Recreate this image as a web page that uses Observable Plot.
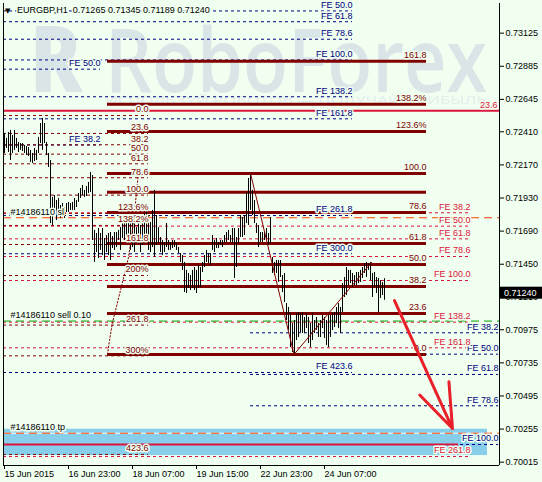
<!DOCTYPE html>
<html><head><meta charset="utf-8">
<script src="https://cdn.jsdelivr.net/npm/d3@7"></script>
<script src="https://cdn.jsdelivr.net/npm/@observablehq/plot@0.6"></script>
<style>
html,body{margin:0;padding:0;background:#f0fff0;}
#chart{width:542px;height:482px;}
</style></head><body><div id="chart"></div>
<script>
// ---------- data ----------
const title = "EURGBP,H1  0.71265 0.71345 0.71189 0.71240";
const lastPrice = 0.71240;
const barHigh = [
0.72398,0.72362,0.72405,0.72420,0.72383,0.72420,0.72362,0.72333,0.72325,0.72325,
0.72311,0.72303,0.72296,0.72275,0.72253,0.72289,0.72275,0.72369,0.72470,0.72507,
0.72470,0.72333,0.72253,0.72202,0.71934,0.71948,0.71912,0.71927,0.71876,0.71890,
0.71861,0.71890,0.71898,0.71890,0.71898,0.71927,0.71912,0.71963,0.71999,0.72021,
0.71985,0.72014,0.72043,0.72115,0.72093,0.71695,0.71673,0.71709,0.71673,0.71709,
0.71637,0.71658,0.71673,0.71680,0.71651,0.71680,0.71680,0.71695,0.71716,0.71745,
0.71782,0.71803,0.71767,0.71753,0.71782,0.71745,0.71716,0.71803,0.71731,0.71782,
0.71818,0.71840,0.71803,0.71753,0.71840,0.71985,0.71803,0.71716,0.71644,0.71622,
0.71608,0.71745,0.71622,0.71608,0.71622,0.71622,0.71600,0.71571,0.71528,0.71513,
0.71463,0.71405,0.71383,0.71368,0.71405,0.71426,0.71405,0.71441,0.71426,0.71463,
0.71513,0.71550,0.71528,0.71528,0.71658,0.71622,0.71637,0.71608,0.71622,0.71622,
0.71658,0.71680,0.71695,0.71658,0.71709,0.71709,0.71644,0.71709,0.71803,0.71789,
0.71803,0.71970,0.72072,0.72108,0.71985,0.71912,0.71745,0.71731,0.71680,0.71680,
0.71680,0.71709,0.71673,0.71789,0.71499,0.71463,0.71477,0.71477,0.71477,0.71368,
0.71383,0.71165,0.71136,0.71093,0.71020,0.71042,0.71093,0.71100,0.71093,0.71100,
0.71064,0.71093,0.71064,0.71020,0.71093,0.71042,0.71064,0.71020,0.71042,0.71078,
0.71064,0.71042,0.71078,0.71078,0.71093,0.71100,0.71136,0.71165,0.71136,0.71310,
0.71354,0.71426,0.71405,0.71405,0.71383,0.71368,0.71390,0.71390,0.71405,0.71426,
0.71455,0.71463,0.71455,0.71463,0.71383,0.71390,0.71354,0.71347,0.71332,0.71318,0.71345];
const barLow = [
0.72253,0.72289,0.72260,0.72202,0.72253,0.72275,0.72289,0.72260,0.72275,0.72267,
0.72253,0.72238,0.72231,0.72188,0.72180,0.72195,0.72202,0.72253,0.72325,0.72275,
0.72325,0.72238,0.72151,0.71745,0.71731,0.71818,0.71767,0.71825,0.71782,0.71818,
0.71782,0.71825,0.71825,0.71840,0.71840,0.71840,0.71861,0.71898,0.71927,0.71948,
0.71934,0.71941,0.71963,0.71970,0.71622,0.71463,0.71535,0.71492,0.71550,0.71513,
0.71477,0.71535,0.71513,0.71477,0.71564,0.71550,0.71571,0.71622,0.71550,0.71637,
0.71622,0.71658,0.71600,0.71550,0.71571,0.71535,0.71600,0.71600,0.71535,0.71586,
0.71600,0.71622,0.71550,0.71535,0.71571,0.71499,0.71586,0.71600,0.71535,0.71513,
0.71535,0.71571,0.71550,0.71550,0.71564,0.71571,0.71550,0.71528,0.71463,0.71405,
0.71245,0.71238,0.71274,0.71260,0.71274,0.71260,0.71238,0.71274,0.71281,0.71390,
0.71426,0.71463,0.71455,0.71441,0.71550,0.71535,0.71564,0.71564,0.71586,0.71571,
0.71600,0.71608,0.71622,0.71608,0.71600,0.71347,0.71426,0.71600,0.71644,0.71644,
0.71658,0.71745,0.71731,0.71840,0.71803,0.71745,0.71673,0.71571,0.71608,0.71608,
0.71622,0.71622,0.71586,0.71600,0.71383,0.71368,0.71383,0.71318,0.71354,0.71245,
0.71173,0.71042,0.70970,0.70846,0.70810,0.70796,0.70897,0.70919,0.70955,0.70948,
0.70948,0.70984,0.70875,0.70846,0.70897,0.70948,0.70970,0.70919,0.70919,0.70984,
0.70912,0.70861,0.70846,0.70919,0.70970,0.70991,0.71020,0.70984,0.70948,0.71100,
0.71209,0.71223,0.71296,0.71310,0.71281,0.71296,0.71296,0.71310,0.71318,0.71347,
0.71383,0.71354,0.71405,0.71332,0.71209,0.71281,0.71238,0.71100,0.71202,0.71223,0.71189];

const xTickPos = [0, 32, 64, 96, 128, 160];
const xTickLabels = ["15 Jun 2015","16 Jun 23:00","18 Jun 07:00","19 Jun 15:00","22 Jun 23:00","24 Jun 07:00"];
const yTicks = [0.73125,0.72885,0.72645,0.72410,0.72170,0.71930,0.71690,0.71450,0.71210,0.70975,0.70735,0.70495,0.70255,0.70015];

// Fibo expansion (navy, upper)
const feNavyLabels = ["FE 50.0","FE 61.8","FE 78.6","FE 100.0","FE 138.2","FE 161.8","FE 261.8","FE 300.0","FE 423.6"];
const feNavyPrices = [0.73286,0.73208,0.73081,0.72931,0.72664,0.72504,0.71803,0.71526,0.70665];
const feNavySpan = [0, 174.5];
// Fibo expansion (navy, small left)
const feLeftLabels = ["FE 50.0","FE 38.2"];
const feLeftPrices = [0.72864,0.72314];
const feLeftSpan = [0, 48.5];
// Fibo expansion (navy, lower right)
const feLowLabels = ["FE 38.2","FE 50.0","FE 61.8","FE 78.6","FE 100.0"];
const feLowPrices = [0.70953,0.70798,0.70651,0.70424,0.70143];
const feLowSpan = [123.5, 247.5];
// Fibo expansion (crimson)
const feRedLabels = ["FE 38.2","FE 50.0","FE 61.8","FE 78.6","FE 100.0","FE 138.2","FE 161.8","FE 261.8"];
const feRedPrices = [0.71823,0.71726,0.71634,0.71506,0.71332,0.71030,0.70844,0.70056];
const feRedSpan = [0, 233.5];
// Fibo retracement (thick maroon)
const fiboLabels = ["161.8","138.2%","123.6%","100.0","","78.6","61.8","50.0","38.2","23.6","0.0"];
const fiboPrices = [0.72922,0.72610,0.72412,0.72108,0.71972,0.71825,0.71600,0.71448,0.71289,0.71093,0.70796];
const fiboSpan = [52, 211.5];
// Fibo retracement (dashed maroon, left)
const fiboLeftLabels = ["0.0","23.6","38.2","50.0","61.8","78.6","100.0","123.6%","138.2%","161.8","200%","261.8","300%","423.6"];
const fiboLeftPrices = [0.72528,0.72398,0.72316,0.72248,0.72178,0.72077,0.71951,0.71818,0.71731,0.71593,0.71368,0.71009,0.70786,0.70071];
const fiboLeftSpan = [0, 72.5];
// crimson solid lines
const redLinePrices = [0.72562, 0.70143];
const redLineEnds = [248, 227.5];
const redLineLabel = "23.6";
// order lines
const slPrice = 0.71787, tpPrice = 0.70225, sellPrice = 0.71038;
const orderLabels = ["#14186110 sl", "#14186110 sell 0.10", "#14186110 tp"];
const tpZone = {x1: 0, x2: 242, y1: 0.70063, y2: 0.70254};
// zigzag & fibo trend
const zigX = [123.5, 145.25, 184];
const zigP = [0.72108, 0.70796, 0.71463];
const dotX = [52, 53, 54.5, 58.5, 62.5, 65, 67.5];
const dotP = [0.70796, 0.70897, 0.71028, 0.71260, 0.71499, 0.71753, 0.72115];
// forecast arrow
const arrowSeg = {x1: 195.5, y1: 0.71187, x2: 224.5, y2: 0.70259};

// ---------- chart ----------
const bg = "#f0fff0";
const navy = "#000080", maroon = "#800000", crimson = "#dc143c", orange = "#ff4500", green = "#00a000";
const bars = barHigh.map((h, i) => ({u: i + 0.5, high: h, low: barLow[i]}));
const halo = {stroke: bg, strokeWidth: 3, paintOrder: "stroke", fontSize: 9};

function levels(prices, span, color, dash, width) {
  return Plot.ruleY(prices, {y: d => d, x1: span[0], x2: span[1], stroke: color, strokeDasharray: dash, strokeWidth: width});
}
function labels(prices, texts, xEnd, color, anchor = "end") {
  return Plot.text(prices, {x: xEnd, y: d => d, text: (d, i) => texts[i], textAnchor: anchor, dy: -6, fill: color, ...halo});
}

const chart = Plot.plot({
  width: 542, height: 482,
  marginLeft: 3, marginRight: 43, marginTop: 3, marginBottom: 17,
  x: {domain: [0, 248]},
  y: {domain: [0.69991, 0.73340]},
  style: {background: bg, fontFamily: "'Liberation Sans', Arial, sans-serif", fontSize: "9px", color: "black", overflow: "visible"},
  marks: [
    Plot.rect([tpZone], {x1: "x1", x2: "x2", y1: "y1", y2: "y2", fill: "#87ceeb"}),
    Plot.ruleY([tpPrice], {x1: 0, x2: 248, stroke: "white", strokeWidth: 1}),
    levels(feNavyPrices, feNavySpan, navy, "3,3", 1),
    levels(feLeftPrices, feLeftSpan, navy, "3,3", 1),
    levels(feLowPrices, feLowSpan, navy, "3,3", 1),
    levels(fiboLeftPrices, fiboLeftSpan, maroon, "3,3", 1),
    levels(feRedPrices, feRedSpan, crimson, "3,3", 1),
    levels(fiboPrices, fiboSpan, maroon, null, 3),
    Plot.ruleY(redLinePrices, {y: d => d, x1: 0, x2: (d, i) => redLineEnds[i], stroke: crimson, strokeWidth: 2}),
    Plot.ruleY([slPrice, tpPrice], {x1: 0, x2: 248, stroke: orange, strokeDasharray: "8,5", strokeWidth: 1}),
    Plot.ruleY([sellPrice], {x1: 0, x2: 248, stroke: green, strokeDasharray: "8,5", strokeWidth: 1}),
    Plot.ruleX(bars, {x: "u", y1: "low", y2: "high", stroke: "black", strokeWidth: 1}),
    Plot.line(dotX.map((u, i) => ({u, p: dotP[i]})), {x: "u", y: "p", stroke: maroon, strokeDasharray: "1.5,2", strokeWidth: 1}),
    Plot.line(zigX.map((u, i) => ({u, p: zigP[i]})), {x: "u", y: "p", stroke: maroon, strokeWidth: 1}),
    labels(feNavyPrices, feNavyLabels, feNavySpan[1], navy),
    labels(feLeftPrices, feLeftLabels, feLeftSpan[1], navy),
    labels(feLowPrices, feLowLabels, feLowSpan[1], navy),
    labels(fiboLeftPrices, fiboLeftLabels, fiboLeftSpan[1], maroon),
    labels(feRedPrices, feRedLabels, feRedSpan[1], crimson),
    labels(fiboPrices, fiboLabels, fiboSpan[1], maroon),
    labels([redLinePrices[0]], [redLineLabel], 247, crimson),
    labels([slPrice, sellPrice, tpPrice], orderLabels, 3.5, "black", "start"),
    Plot.arrow([arrowSeg], {x1: "x1", y1: "y1", x2: "x2", y2: "y2", stroke: "#e8202a", strokeWidth: 3, headLength: 28, headAngle: 40}),
    Plot.ruleX([0, 248], {stroke: "black"}),
    Plot.ruleY([0.69991], {stroke: "black"}),
    Plot.axisY({anchor: "right", ticks: yTicks, tickFormat: d => d.toFixed(5), tickSize: 4, tickPadding: 2, label: null}),
    Plot.axisX({anchor: "bottom", ticks: xTickPos, tickFormat: d => xTickLabels[xTickPos.indexOf(d)], textAnchor: "start", dx: 1, tickSize: 4, tickPadding: 1, label: null})
  ]
});
document.getElementById("chart").appendChild(chart);

// watermark behind everything
const svg = d3.select(chart);
const wm = svg.insert("g", "g").attr("fill", "#dae5e8").attr("text-anchor", "start")
  .attr("font-family", "'Open Sans', 'Liberation Sans', sans-serif");
wm.append("text").attr("x", 30).attr("y", 92).attr("font-size", 92).attr("font-weight", 800).attr("textLength", 52).attr("lengthAdjust", "spacingAndGlyphs").text("R");
wm.append("text").attr("x", 105).attr("y", 92).attr("font-size", 88).attr("font-weight", 600).attr("textLength", 382).attr("lengthAdjust", "spacingAndGlyphs").text("RoboForex");
wm.append("text").attr("x", 105).attr("y", 104).attr("font-size", 11).attr("fill", "#e4eded").attr("textLength", 382).attr("lengthAdjust", "spacingAndGlyphs").text("ИСПОЛЬЗУЙ РОБОТОВ — ПОЛУЧАЙ ПРИБЫЛЬ");

// title (symbol & last OHLC)
const tg = svg.append("g").attr("text-anchor", "start").attr("font-family", "'Liberation Sans', Arial, sans-serif").attr("font-size", 9);
tg.append("text").attr("x", 5).attr("y", 13).attr("font-size", 7).attr("font-family", "'DejaVu Sans', sans-serif").text("▼");
tg.append("text").attr("x", 17).attr("y", 13).attr("stroke", bg).attr("stroke-width", 3).attr("paint-order", "stroke").text(title);

// current price box on the axis
const yp = chart.scale("y").apply(lastPrice);
const box = svg.append("g").attr("text-anchor", "start");
box.append("rect").attr("x", 499).attr("y", yp - 6).attr("width", 43).attr("height", 12).attr("fill", "black");
box.append("text").attr("x", 504).attr("y", yp).attr("dy", "0.35em").attr("fill", "white")
  .attr("font-family", "'Liberation Sans', Arial, sans-serif").attr("font-size", 9).text(lastPrice.toFixed(5));
</script>
</body></html>
